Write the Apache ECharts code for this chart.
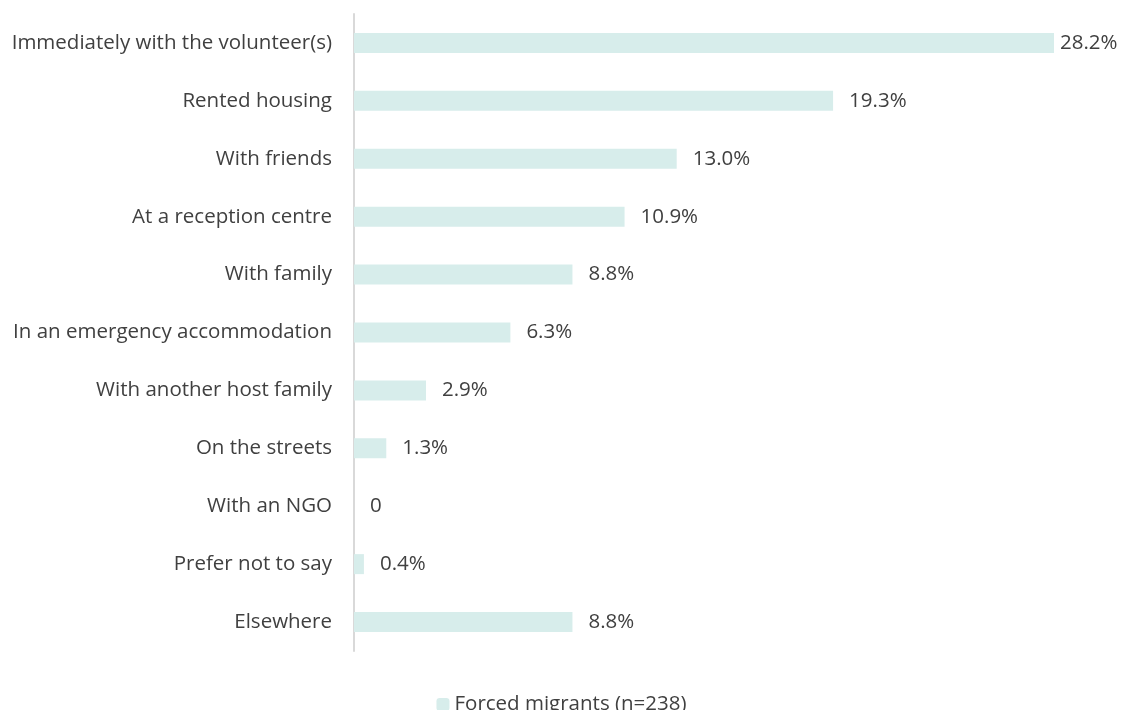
<!DOCTYPE html>
<html>
<head>
<meta charset="utf-8">
<script src="https://cdn.jsdelivr.net/npm/echarts@6/dist/echarts.min.js"></script>
<style>html,body{margin:0;padding:0;background:#fff;}#chart{width:1123px;height:710px;}</style>
</head>
<body>
<div id="chart"></div>
<script>
const categories = [
  "Immediately with the volunteer(s)",
  "Rented housing",
  "With friends",
  "At a reception centre",
  "With family",
  "In an emergency accommodation",
  "With another host family",
  "On the streets",
  "With an NGO",
  "Prefer not to say",
  "Elsewhere"
];
const values = [28.2, 19.3, 13.0, 10.9, 8.8, 6.3, 2.9, 1.3, 0, 0.4, 8.8];
const seriesName = "Forced migrants (n=238)";

const FONT = "Open Sans";
const FS = 20.5;
const TXT = "#404040";
const chart = echarts.init(document.getElementById('chart'));
chart.setOption({
  animation: false,
  grid: { left: 354, right: 69, top: 14, bottom: 59 },
  xAxis: {
    type: 'value', min: 0, max: 28.2,
    show: false
  },
  yAxis: {
    type: 'category', data: categories, inverse: true,
    axisLine: { show: true, lineStyle: { color: '#d9d9d9', width: 2 } },
    axisTick: { show: false },
    axisLabel: { color: TXT, fontFamily: FONT, fontSize: FS, margin: 22, padding: [3, 0, 0, 0] }
  },
  legend: {
    data: [seriesName], bottom: -10, left: 'center',
    itemWidth: 13, itemHeight: 13, itemGap: 6,
    textStyle: { color: TXT, fontFamily: FONT, fontSize: FS }
  },
  series: [{
    name: seriesName, type: 'bar', barWidth: 20,
    itemStyle: { color: '#d7edeb' },
    data: values.map((v, i) => i === 0 ? { value: v, label: { distance: 6 } } : v),
    label: {
      show: true, position: 'right', distance: 16, padding: [3, 0, 0, 0],
      color: TXT, fontFamily: FONT, fontSize: FS,
      formatter: p => p.value === 0 ? '0' : p.value.toFixed(1) + '%'
    }
  }]
});
</script>
</body>
</html>
